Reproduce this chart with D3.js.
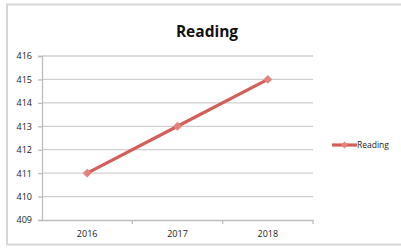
<!DOCTYPE html>
<html>
<head>
<meta charset="utf-8">
<script src="https://cdn.jsdelivr.net/npm/d3@7"></script>
<style>
  body { margin: 0; background: #fff; }
  svg { display: block; }
</style>
</head>
<body>
<svg width="401" height="248"></svg>
<script>
// data
var years = ["2016", "2017", "2018"];
var reading = [411, 413, 415];
var yTicks = [409, 410, 411, 412, 413, 414, 415, 416];
var seriesName = "Reading";

var svg = d3.select("svg");
var red = "#d35f58";

// cadre
svg.append("rect")
    .attr("x", 7).attr("y", 4.5)
    .attr("width", 402).attr("height", 240)
    .attr("fill", "none")
    .attr("stroke", "#d6d6d6")
    .attr("stroke-width", 2);

var plotLeft = 42, plotRight = 313, plotTop = 56, plotBottom = 220;

var x = d3.scaleBand().domain(years).range([plotLeft, plotRight]);
var y = d3.scaleLinear().domain([409, 416]).range([plotBottom, plotTop]);

// grille
svg.append("g")
    .selectAll("line")
    .data(yTicks.slice(1))
    .enter()
    .append("line")
    .attr("x1", plotLeft).attr("x2", plotRight)
    .attr("y1", function(d) { return y(d); })
    .attr("y2", function(d) { return y(d); })
    .attr("stroke", "#cfcfcf")
    .attr("stroke-width", 1.3);

// axe y
var yAxis = svg.append("g")
    .attr("transform", "translate(" + plotLeft + ",0)")
    .call(d3.axisLeft(y).tickValues(yTicks).tickFormat(d3.format("d")).tickSize(4).tickPadding(6));
yAxis.select(".domain").attr("stroke", "#bdbdbd").attr("stroke-width", 1.3);
yAxis.selectAll(".tick line").attr("stroke", "#bdbdbd").attr("stroke-width", 1.3);
yAxis.selectAll("text")
    .attr("font-family", "Open Sans")
    .attr("font-size", 9)
    .attr("fill", "#222");

// axe x
var xAxis = svg.append("g")
    .attr("transform", "translate(0," + plotBottom + ")")
    .call(d3.axisBottom(x).tickSize(0).tickPadding(11));
xAxis.select(".domain").attr("stroke", "#bdbdbd").attr("stroke-width", 1.3);
xAxis.selectAll("text")
    .attr("font-family", "Open Sans")
    .attr("font-size", 9)
    .attr("fill", "#222");
// petits traits entre les catégories
xAxis.selectAll(".sep")
    .data(years.slice(1).concat(["end"]))
    .enter()
    .append("line")
    .attr("x1", function(d, i) { return i < years.length - 1 ? x(d) : plotRight; })
    .attr("x2", function(d, i) { return i < years.length - 1 ? x(d) : plotRight; })
    .attr("y1", 0).attr("y2", 4)
    .attr("stroke", "#bdbdbd")
    .attr("stroke-width", 1.3);

// ligne
var line = d3.line()
    .x(function(d, i) { return x(years[i]) + x.bandwidth() / 2; })
    .y(function(d) { return y(d); });

svg.append("path")
    .datum(reading)
    .attr("d", line)
    .attr("fill", "none")
    .attr("stroke", red)
    .attr("stroke-width", 3.2);

svg.append("g")
    .selectAll("path")
    .data(reading)
    .enter()
    .append("path")
    .attr("d", d3.symbol().type(d3.symbolDiamond2).size(50))
    .attr("transform", function(d, i) {
        return "translate(" + (x(years[i]) + x.bandwidth() / 2) + "," + y(d) + ")";
    })
    .attr("fill", "#e5827b");

// titre
svg.append("text")
    .attr("x", 207).attr("y", 37)
    .attr("text-anchor", "middle")
    .attr("font-family", "Open Sans")
    .attr("font-weight", "700")
    .attr("font-size", 15.5)
    .attr("fill", "#111")
    .text("Reading");

// légende
var leg = svg.append("g").attr("transform", "translate(332,145)");
leg.append("line")
    .attr("x1", 0).attr("x2", 25)
    .attr("stroke", red).attr("stroke-width", 3.2);
leg.append("path")
    .attr("d", d3.symbol().type(d3.symbolDiamond2).size(30))
    .attr("transform", "translate(12.5,0)")
    .attr("fill", "#e5827b");
leg.append("text")
    .attr("x", 25).attr("y", 3)
    .attr("font-family", "Open Sans")
    .attr("font-size", 8.5)
    .attr("fill", "#222")
    .text(seriesName);
</script>
</body>
</html>
